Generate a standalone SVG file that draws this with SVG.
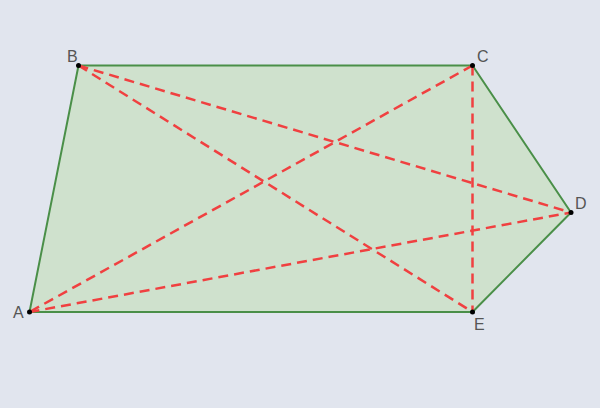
<svg xmlns="http://www.w3.org/2000/svg" width="600" height="408" viewBox="0 0 600 408">
<style>
.poly{fill:#cfe1cd;stroke:#4a8f48;stroke-width:2;stroke-linejoin:round}
.d{stroke:#f04040;stroke-width:2.5;stroke-dasharray:10 6;fill:none}
.pt{fill:#000}
.lbl{font-family:"Liberation Sans",Arial,sans-serif;font-size:16px;fill:#555}
</style>
<rect width="600" height="408" fill="#e1e5ee"/>
<g id="pentagon"><polygon class="poly" points="29.5,312 78.5,65.5 472.5,65.5 571,212.5 472.5,312"/></g>
<g id="connectors">
<line class="d" x1="78.5" y1="65.5" x2="472.5" y2="312"/>
<line class="d" x1="78.5" y1="65.5" x2="571" y2="212.5"/>
<line class="d" x1="472.5" y1="65.5" x2="29.5" y2="312"/>
<line class="d" x1="472.5" y1="65.5" x2="472.5" y2="312"/>
<line class="d" x1="29.5" y1="312" x2="571" y2="212.5"/>
</g>
<g id="A"><circle class="pt" cx="29.5" cy="312" r="2.5"/><text class="lbl" x="13" y="318">A</text></g>
<g id="B"><circle class="pt" cx="78.5" cy="65.5" r="2.5"/><text class="lbl" x="67" y="62">B</text></g>
<g id="C"><circle class="pt" cx="472.5" cy="65.5" r="2.5"/><text class="lbl" x="477" y="62">C</text></g>
<g id="D"><circle class="pt" cx="571" cy="212.5" r="2.5"/><text class="lbl" x="575" y="209">D</text></g>
<g id="E"><circle class="pt" cx="472.5" cy="312" r="2.5"/><text class="lbl" x="474" y="330">E</text></g>
</svg>
